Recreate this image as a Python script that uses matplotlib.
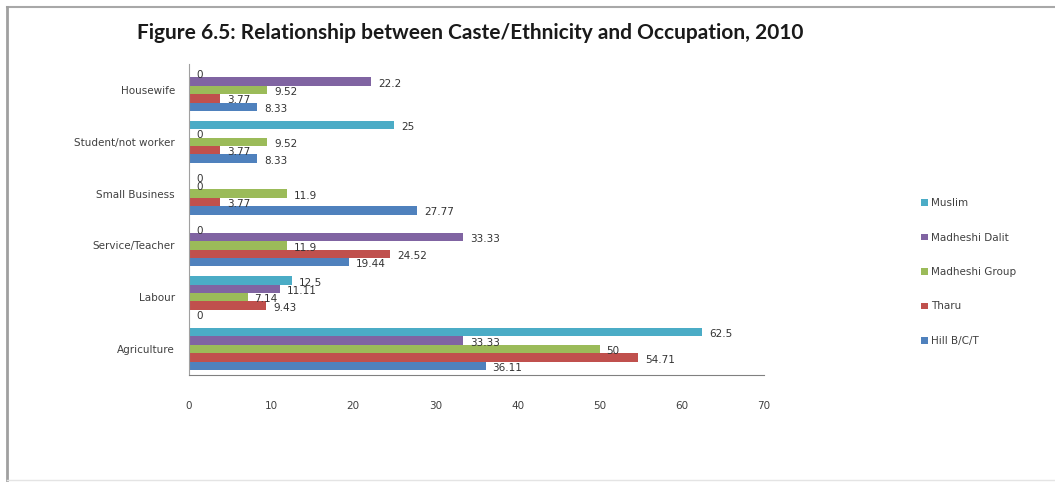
import matplotlib
matplotlib.use("Agg")
import matplotlib.pyplot as plt
import numpy as np
from matplotlib.lines import Line2D
from matplotlib.patches import Patch

categories = ["Agriculture", "Labour", "Service/Teacher", "Small Business",
              "Student/not worker", "Housewife"]
series_names = ["Hill B/C/T", "Tharu", "Madheshi Group", "Madheshi Dalit", "Muslim"]
hill = [36.11, 0, 19.44, 27.77, 8.33, 8.33]
tharu = [54.71, 9.43, 24.52, 3.77, 3.77, 3.77]
madheshi_group = [50, 7.14, 11.9, 11.9, 9.52, 9.52]
madheshi_dalit = [33.33, 11.11, 33.33, 0, 0, 22.2]
muslim = [62.5, 12.5, 0, 0, 25, 0]
xticks = [0, 10, 20, 30, 40, 50, 60, 70]

series = [hill, tharu, madheshi_group, madheshi_dalit, muslim]
colors = ["#4F81BD", "#C0504D", "#9BBB59", "#8064A2", "#4BACC6"]

W, H = 1055, 483
fig = plt.figure(figsize=(W / 100, H / 100), dpi=100)
ax = fig.add_axes([189 / W, 1 - 375 / H, (764 - 189) / W, (375 - 64) / H])

n = len(series)
group_h = 0.81
bh = group_h / n
y = np.arange(len(categories))
for i, (vals, c, name) in enumerate(zip(series, colors, series_names)):
    pos = y - group_h / 2 + bh * (i + 0.5)
    ax.barh(pos, vals, height=bh, color=c, label=name, zorder=2)
    for p, v in zip(pos, vals):
        lab = ("%g" % v)
        ax.annotate(lab, (v, p), xytext=(5, -1.5), textcoords="offset points",
                    ha="left", va="center", fontsize=7.5, color="#333333", zorder=3)

ax.set_xlim(0, 70)
ax.set_ylim(-0.5, len(categories) - 0.5)
ax.set_xticks(xticks)
ax.set_yticks(y)
ax.set_yticklabels(categories)
ax.tick_params(axis="x", length=0, pad=19, labelsize=7.5, colors="#404040")
ax.tick_params(axis="y", length=0, pad=10, labelsize=7.5, colors="#404040")
for s in ["top", "right"]:
    ax.spines[s].set_visible(False)
ax.spines["left"].set_color("#a0a0a0")
ax.spines["bottom"].set_color("#808080")

handles = [Patch(facecolor=c, edgecolor="none") for c in colors][::-1]
labels = series_names[::-1]
fig.legend(handles, labels, loc="center left", bbox_to_anchor=(912 / W, 1 - 272 / H),
           frameon=False, fontsize=7.5, labelspacing=2.35, handlelength=0.6,
           handleheight=0.6, handletextpad=0.3, labelcolor="#404040")

fig.text(470 / W, 1 - 33 / H,
         "Figure 6.5: Relationship between Caste/Ethnicity and Occupation, 2010",
         ha="center", va="center", fontsize=15, fontweight="bold",
         family="Lato", color="#1a1a1a")

# outer frame
fig.add_artist(Line2D([7 / W, 1], [1 - 7 / H, 1 - 7 / H], transform=fig.transFigure,
                      color="#a8a8a8", lw=1.5))
fig.add_artist(Line2D([7 / W, 7 / W], [1 - 7 / H, 1 - 480 / H], transform=fig.transFigure,
                      color="#a0a0a0", lw=2))
fig.add_artist(Line2D([7 / W, 1], [1 - 480 / H, 1 - 480 / H], transform=fig.transFigure,
                      color="#e4e4e4", lw=1))

fig.savefig("out.png", dpi=100)
